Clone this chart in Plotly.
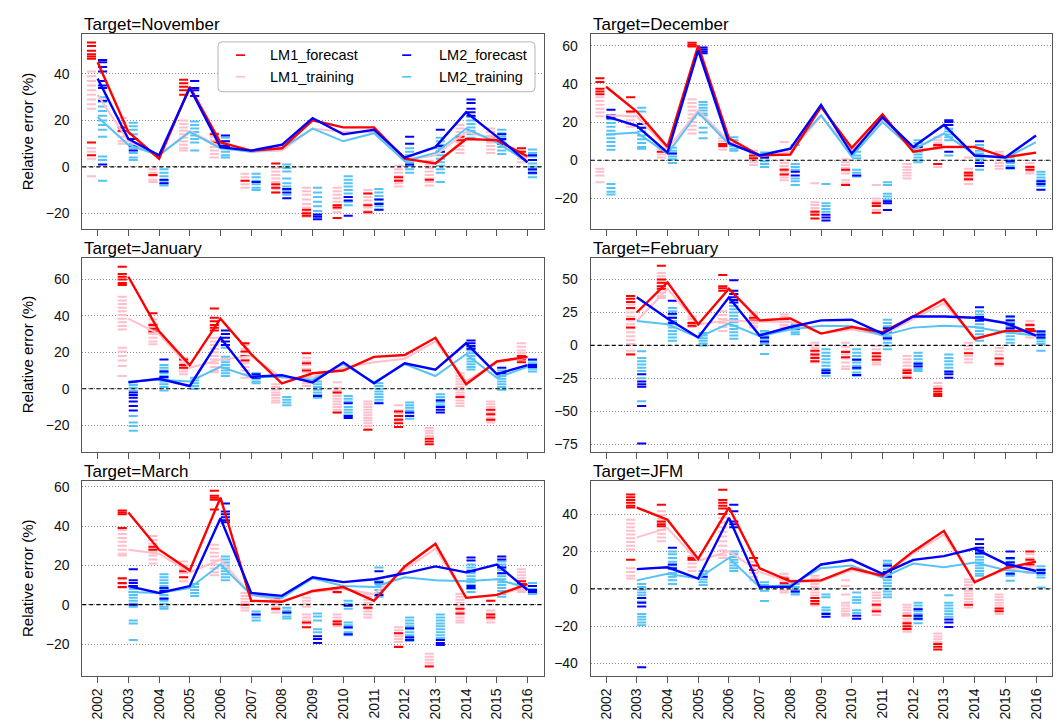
import plotly.graph_objects as go
from plotly.subplots import make_subplots

YEARS = [2002, 2003, 2004, 2005, 2006, 2007, 2008, 2009, 2010, 2011, 2012, 2013, 2014, 2015, 2016]
PANEL_TITLES = ["Target=November", "Target=December", "Target=January",
                "Target=February", "Target=March", "Target=JFM"]
SERIES_NAMES = ["LM1_forecast", "LM2_forecast", "LM1_training", "LM2_training"]

# ---------------- November ----------------
NOV_LM1_FC_LINE = [45, 15, 3.5, 34.5, 10.5, 7, 8, 20, 17, 17, 3.5, 1.5, 12, 11.5, 4.5]
NOV_LM2_FC_LINE = [38, 12, 5, 34, 8.5, 7, 9.5, 21, 14, 16, 4, 8.5, 23.5, 13, 2]
NOV_LM1_TR_LINE = [31, 11, 5, 15.5, 8.5, 6.5, 7, 16.5, 15, 15, 3, 5, 15, 12, 3.5]
NOV_LM2_TR_LINE = [21.5, 9.5, 5, 15, 8, 6.5, 8, 16.5, 11, 14.5, 2.5, 6, 16.5, 10.5, 2]
NOV_LM1_FC_PTS = [
    [53.5, 52, 50, 48.5, 47.5, 46.5, 10.5, 5], [17, 15.5], [-3.5], [37.5, 36, 34.5, 33, 31],
    [14, 10.5], [-6], [1.5, -7.5, -9, -11], [-18.5, -20, -21], [-16.5, -17.5, -22],
    [-11.5, -16.5, -19.5], [-4.5, -6], [-5.5], [13, 11.5], [12.5, 11.5], [8, 6.5]]
NOV_LM1_TR_PTS = [
    [41, 39, 37, 35, 33, 31, 29, 27, 25, 8, 6.5, 5, 3.5, -4],
    [21, 19, 17, 15, 13, 11, 10], [-1, -2.5, -4, -5.5, -6.5],
    [20, 18.5, 17, 15.5, 14, 12.5, 11, 9.5, 8, 7], [14.5, 13, 11.5, 10, 8.5, 7, 5.5, 4],
    [-3, -4.5, -6, -7.5, -9], [-0.5, -2, -3.5, -5, -6.5, -8, -9.5, -11],
    [-9, -10.5, -12, -14, -16, -17.5, -19, -20.5, -21.5],
    [-9, -10.5, -12, -13.5, -15, -16.5, -18, -19.5],
    [-10, -11.5, -13, -14.5, -16, -17.5, -19, -20], [0.5, -1, -2.5, -4, -5.5, -7, -8.5],
    [2.5, 1, -0.5, -2, -3.5, -5, -6.5, -8], [18, 16.5, 15, 13.5, 12, 10.5, 9, 7.5, 6],
    [16.5, 15, 13.5, 12, 10.5, 9, 7.5, 6], [8, 6.5, 5, 3.5, 2]]
NOV_LM2_FC_PTS = [
    [46, 45, 43, 41, 37, 35, 34, 28.5, 1], [12, 9, 7], [-5.5, -7], [37, 34, 33, 30.5],
    [13.5, 11, 9], [-6.5], [-9.5, -11, -13.5], [-20.5, -21.5, -22.5], [-13, -14.5, -21],
    [-14, -16, -18.5], [13, 10, 3, 1], [16, 9, 6.5], [29, 27.5, 25, 23.5, 22], [14, 12, 10],
    [5, 3, -1, -2.5]]
NOV_LM2_TR_PTS = [
    [30, 28, 26, 24, 22, 20, 18, 16, 13, 4.5, 3, -6], [19, 17.5, 16, 14, 12, 10, 8, 6, 4, 3],
    [-1, -2.5, -4, -6, -7, -8], [19.5, 18, 16.5, 15, 13.5, 12, 10.5, 7],
    [12.5, 11, 9.5, 8, 6.5, 5, 4], [-3, -4.5, -6, -7.5, -9, -10],
    [1, -0.5, -2, -5, -7, -8.5, -10, -12], [-9, -11, -13, -15, -17, -19, -21],
    [-4, -5.5, -7, -8.5, -10, -11.5, -13, -15, -16.5], [-9.5, -11, -12.5, -14, -15.5, -17, -18.5],
    [8, 6.5, 5, 3.5, 2, 0.5, -1, -2.5], [12.5, 11, 9.5, 8, 6.5, 5, 3.5, 2, 0.5, -1, -2.5, -6.5],
    [21.5, 20, 18.5, 17, 15.5, 14, 12.5], [16, 14.5, 13, 11.5, 10, 8.5, 7, 5.5],
    [7.5, 6, 4.5, 3, 1.5, 0, -1.5, -3, -4.5]]

# ---------------- December ----------------
DEC_LM1_FC_LINE = [38.5, 25.5, 7, 60, 11.5, 2.5, 3, 28, 6.5, 24, 4.5, 7, 7, 1.5, 4]
DEC_LM2_FC_LINE = [23, 18, 4, 57.5, 9, 2.5, 6, 29, 3.5, 22.5, 7, 18.5, 2.5, 1.5, 13]
DEC_LM1_TR_LINE = [23.5, 23, 6, 26, 10, 2, 4.5, 23, 5, 21, 5.5, 6.5, 6.5, 2, 4]
DEC_LM2_TR_LINE = [13.5, 14.5, 3.5, 25, 8.5, 3, 6, 23.5, 2, 20, 5.5, 14, 3, 1, 9.5]
DEC_LM1_FC_PTS = [
    [43, 41, 37.5, 36, 34.5], [33, 25.5], [4.5], [61.5, 60.5, 59.5], [8.5, 7.5], [2.5, 1],
    [-5, -7.5], [-27, -28.5, -30.5], [-5, -13], [-22.5, -24, -27.5], [], [8, 6.5, -2],
    [-6.5, -8, -10], [], [-3.5, -5]]
DEC_LM1_TR_PTS = [
    [33, 31, 29, 27, 25, 23, -4.5, -6, -8, -11.5], [25, 23, 21, 19, 17.5], [6, 4.5, 3, 1.5],
    [32, 30, 28, 26, 24, 22, 20, 18, 16, 14], [13, 11.5, 10, 8.5, 7, 5.5],
    [5, 3.5, 2, 0.5, -1, -2.5], [9.5, 0, -1.5, -3, -4.5, -6, -7.5, -9, -10.5],
    [-12, -22, -23.5, -25, -26.5, -28], [0.5, -1, -2.5, -4, -5.5, -7, -10.5, -12],
    [-13, -20, -21.5, -23, -26], [-2, -3.5, -5, -6.5, -8, -9.5], [12, 10.5, 9, 7.5, 6, -3.5],
    [1.5, -4.5, -6, -7.5, -9, -10.5, -12.5], [4.5, 3, 1.5, 0, -1.5, -3, -4.5],
    [-1.5, -3, -4.5, -6, -7]]
DEC_LM2_FC_PTS = [
    [26.5, 23.5, 22], [19, 17], [3.5], [59, 58, 57, 56], [9], [1.5], [-6, -8],
    [-28.5, -30, -31.5], [-8], [-21.5, -22.5, -26], [7], [21, 20, 18.5, 4.5],
    [10, -1.5, -3], [-0.5, -4], [-11, -12.5, -15.5]]
DEC_LM2_TR_PTS = [
    [23.5, 21.5, 19.5, 17.5, 15.5, 13.5, 11.5, 9.5, 7.5, 5.5, -12.5, -14.5, -16.5, -18],
    [27.5, 25.5, 17, 15, 13, 11, 9, 7, 6], [6.5, 5, 3.5, 2, 0.5, -1.5],
    [30.5, 29, 27.5, 26, 24.5, 23.5, 17, 14.5, 11.5], [12, 10.5, 9, 7.5, 6, 5],
    [4, 2.5, 1, -0.5, -2, -3.5], [8, -2, -3.5, -5, -9.5, -11, -13],
    [-12.5, -22.5, -24, -25.5, -27], [4.5, 2.5, 1, -5, -6.5, -8.5],
    [-11.5, -13, -17.5, -19, -20.5], [10.5, 9, 7.5, 6, 4.5, 3, 1.5, 0, -1],
    [16.5, 15, 13.5, 12, 10.5, 2.5], [8, 6.5, 5, 3.5, 2, 0.5, -1, -3, -5],
    [1.5, 0, -1.5, -3, -4.5], [-6, -7.5, -9, -10.5, -12, -13.5]]

# ---------------- January ----------------
JAN_LM1_FC_LINE = [None, 61.5, 31.5, 13, 38.5, 19, 3, 8.5, 10, 17.5, 18.5, 28, 2.5, 15, 17.5]
JAN_LM2_FC_LINE = [None, 3.5, 5.5, 1.5, 28, 6.5, 7.5, 3.5, 14.5, 3, 14, 10.5, 25, 8, 13]
JAN_LM1_TR_LINE = [None, 38.5, 30, 11.5, 16, 18, 6, 6.5, 11.5, 14.5, 16.5, 26, 4, 14.5, 17]
JAN_LM2_TR_LINE = [None, 4, 5, 4, 12, 6.5, 6.5, 5, 13.5, 3.5, 13.5, 7, 19, 6, 12]
JAN_LM1_FC_PTS = [
    [], [67, 63, 61.5, 60, 58, 57], [41.5, 35, 33, 31.5], [16, 13, 11.5],
    [44, 39, 37, 35, 33.5, 32], [25, 20.5, 18, 15.5], [], [19.5, 14, 10], [-2, -13],
    [-22.5], [-12.5, -15, -17, -19, -21], [-27.5, -29, -30.5], [-4.5], [-11.5, -14, -17],
    [18, 16, 14.5]]
JAN_LM1_TR_PTS = [
    [], [50.5, 48.5, 46.5, 44.5, 42.5, 40.5, 38.5, 36.5, 34.5, 32.5, 22.5, 20.5, 18, 15.5, 12.5, 7],
    [38, 36, 34, 32, 30, 28, 26, 24.5], [17, 15.5, 14, 12.5, 11, 9.5, 8],
    [28, 26, 24, 22, 20, 18, 16, 14, 12, 10, 9], [24, 22, 20, 18, 16, 14, 12, 10, 8, 6],
    [2.5, 1, -0.5, -2, -3.5, -5, -6.5, -7.5], [17, 15, 13, 11, 9, 7, 5, 3, 1.5],
    [3.5, 0.5, -1, -2.5, -4, -5.5, -7, -8.5, -10, -11.5, -13],
    [-7, -8.5, -10, -11.5, -13, -14.5, -16, -17.5, -19, -20.5, -22],
    [-9, -12, -13.5, -15, -16.5, -18], [-21.5, -23, -24.5, -26],
    [8.5, 7, 5.5, 4, 2.5, 1, -0.5, -2, -3.5, -5, -6.5, -8, -9.5],
    [-7, -8.5, -10, -11.5, -13, -14.5, -16, -17.5, -18.5], [25, 23, 21, 19.5, 18, 16.5, 15]]
JAN_LM2_FC_PTS = [
    [], [-2, -3.5, -5, -7, -9.5, -12], [16, 9.5, 6.5], [], [32, 30, 28, 26, 24], [8, 6], [],
    [-4], [-8, -15, -16], [-8], [-13, -15], [-6.5, -10, -11.5, -13], [26.5, 25, 23.5, 22],
    [11.5, 8.5], [16, 13, 12]]
JAN_LM2_TR_PTS = [
    [], [3.5, 2, 0.5, -1, -15, -18.5, -20.5, -23], [13, 11.5, 10, 8.5, 7, 5.5, 4, 2.5, 1, -1],
    [6, 4.5, 3, 1.5, 0], [22.5, 17.5, 16, 14.5, 13, 11.5, 10, 8.5, 7], [8.5, 7, 5.5, 4, 3],
    [-4.5, -6, -7.5, -9], [4, 2.5, 1, -0.5, -2, -3.5, -5], [-4, -5.5, -7, -10, -11.5, -13, -14.5],
    [3, 1.5, 0, -1.5, -3, -4.5, -6, -7.5], [-7.5, -9, -10.5, -12, -13.5, -15, -16.5],
    [-3, -4.5, -6, -7.5, -9], [22.5, 21, 19.5, 18, 16.5, 15, 13.5, 12, 10.5],
    [10, 8.5, 7, 5.5, 4, 2.5, 1, -0.5], [15.5, 14, 12.5, 11, 9.5]]

# ---------------- February ----------------
FEB_LM1_FC_LINE = [None, 25, 48, 16, 43, 19, 20.5, 9, 14, 10, 22, 35, 5, 11, 11]
FEB_LM2_FC_LINE = [None, 36.5, 20.5, 6, 36.5, 7.5, 14, 19, 19.5, 9, 22, 22, 21, 17, 7.5]
FEB_LM1_TR_LINE = [None, 18.5, 43, 16, 19, 18, 18, 9, 12, 8, 20, 32, 5.5, 10.5, 10]
FEB_LM2_TR_LINE = [None, 18.5, 16, 6, 16.5, 7, 12, 15, 14.5, 7.5, 13.5, 15, 14, 10, 7.5]
FEB_LM1_FC_PTS = [
    [], [37.5, 35.5, 33, 28.5, 20, 13.5, -7], [60.5, 50, 47.5, 45, 43], [17, 15],
    [53.5, 45, 43.5, 41.5], [21, 19], [20], [-4, -7, -9.5, -12], [-5, -9], [-6, -8.5, -11],
    [-19, -21, -24.5], [-33, -35, -37, -38.5], [-6], [-10, -14], [15.5, 12.5, 11]]
FEB_LM1_TR_PTS = [
    [], [31, 28, 25, 22, 19, 16, 13, 10, 7, 4, 1, -4, -6.5],
    [55, 52.5, 50, 47.5, 45, 42.5, 40, 37.5, 36], [22, 20, 18, 16, 14], [26, 23, 20, 17, 14, 11],
    [25, 23, 21, 19, 17, 15, 13.5], [23.5, 21.5, 19.5, 17.5, 15.5, 13.5],
    [2, 0, -2, -4, -6, -8, -10, -12, -13], [2, -1, -4, -7, -10, -13, -16, -18],
    [-0.5, -3, -5.5, -8, -10.5, -13, -14.5], [-8, -10.5, -13, -15.5, -18, -20.5, -23],
    [-28.5, -31], [2, -0.5, -3, -5.5, -8, -10.5, -13], [-2, -4.5, -7, -9.5, -12, -14.5, -15.5],
    [18.5, 16.5, 14.5, 12.5, 10.5, 8.5, 6]]
FEB_LM2_FC_PTS = [
    [], [-22, -27.5, -29.5, -31.5, -46, -74.5], [34, 24, 21, 17], [],
    [49.5, 41.5, 39, 36.5, 34.5, 32.5], [6, 3], [12.5], [-19, -21], [-11, -17, -22.5],
    [13, 10, 5.5], [-14, -16], [-20, -22, -24.5], [29, 21.5, 19], [22, 19, 16, 13], [10.5, 8, 6]]
FEB_LM2_TR_PTS = [
    [], [-4.5, -9.5, -12, -14.5, -17, -19.5, -25, -42.5],
    [28.5, 26, 23.5, 21, 18.5, 16, 13.5, 11, 8.5, 6, 3.5], [9.5, 7.5, 5.5, 3.5, 1.5, 0],
    [30, 27.5, 25, 22.5, 20, 17.5, 15, 12.5, 10, 7.5, 5], [11, 9, 7, 5, 3, 1, -6.5],
    [16, 14, 12, 10, 8.5], [-3, -5.5, -8, -10.5, -13, -15.5, -18, -20.5, -23],
    [-3, -5.5, -8, -10.5, -13, -15.5, -18, -20.5, -23],
    [19.5, 17, 14.5, 12, 9.5, 7, 4.5, 2, -0.5, -3], [-5.5, -8, -10.5, -13, -15.5, -18, -19.5],
    [-7, -9.5, -12, -14.5, -17, -19.5], [26, 23.5, 21, 18.5, 16, 13.5, 11, 8.5, 6, 3.5],
    [22, 19.5, 17, 14.5, 12, 9.5, 7, 4.5, 2], [11, 9, 7, 5, 3, 1, -4]]

# ---------------- March ----------------
MAR_LM1_FC_LINE = [None, 47, 28, 17.5, 54.5, 2, 1.5, 7, 9, 2, 19.5, 31, 3.5, 5, 10.5]
MAR_LM2_FC_LINE = [None, 9.5, 6, 9.5, 44, 6, 4.5, 14, 11.5, 13, 16, 19.5, 16.5, 20.5, 7.5]
MAR_LM1_TR_LINE = [None, 28, 26, 16.5, 23, 5, 2, 6.5, 8, 5.5, 18, 28.5, 3.5, 5, 9]
MAR_LM2_TR_LINE = [None, 6.5, 6, 8.5, 20.5, 5, 3.5, 13.5, 9.5, 9, 14, 12.5, 12, 13, 8.5]
MAR_LM1_FC_PTS = [
    [], [48, 47, 46, 39, 13.5, 11, 9], [29.5, 28], [17, 14], [58, 55.5, 54.5, 53.5, 48.5], [0],
    [3, -2], [-9, -11.5], [6.5, -8.5, -10], [-1.5], [-14.5, -21.5], [-31.5], [-2, -4.5],
    [2, -5, -6.5], [12, 10.5]]
MAR_LM1_TR_PTS = [
    [], [38, 36, 34, 32, 30, 28, 26, 25, 13, 10.5, 8.5], [35, 33, 31, 29, 27, 25, 23, 21],
    [22, 20, 18, 16, 14, 12], [30.5, 28.5, 26.5, 24.5, 22.5, 20.5, 18.5, 16.5, 15],
    [6, 4.5, 3, 1.5, 0, -1.5, -3], [3.5, 2, 0.5, -1, -2.5, -4],
    [3.5, 2, 0.5, -1, -5, -6.5, -8, -9.5, -11.5], [6, -5, -6.5, -8, -9.5, -11],
    [5.5, 4, 2.5, 1, -0.5, -2, -3.5, -5, -6.5], [-11.5, -13, -14.5, -16, -17.5, -19, -21],
    [-25, -26.5, -28, -29.5, -31], [5.5, 4, 2.5, 1, -0.5, -2, -3.5, -5, -6.5, -8, -9],
    [2, -3, -4.5, -6, -7.5, -9], [18, 16.5, 15, 13.5, 12, 10.5, 9, 7.5, 6.5]]
MAR_LM2_FC_PTS = [
    [], [18, 12.5, 11, 9.5, 0], [8.5, 7, 3], [], [51.5, 47.5, 46, 44.5, 43, 42], [-5], [-4],
    [-16, -17.5, -19.5], [-0.5, -11.5, -15], [17, 11.5, 5], [-12, -16.5, -18],
    [-18, -19.5, -20.5], [24, 22.5, 17, 9.5, 8.5], [24.5, 23, 19, 16], [9.5, 7.5, 6.5]]
MAR_LM2_TR_PTS = [
    [], [8, 6.5, 5, 3.5, 2, 0.5, -1, -8, -9.5, -18],
    [15.5, 14, 12.5, 11, 9.5, 8, 6.5, 5, 3.5, 2, 0.5, -1, -2], [10.5, 9, 7.5, 6, 4.5],
    [24.5, 23, 21.5, 20, 18.5, 17, 15.5, 14, 12.5], [-3.5, -5, -6.5, -8], [-1.5, -3, -4.5, -6, -7],
    [-4.5, -6, -8, -12.5, -14], [2, 0.5, -2, -9, -10.5, -12, -14, -15.5],
    [19, 12, 10.5, 9, 7.5, 6, 4], [-6.5, -8, -9.5, -11, -12.5, -14, -15.5, -17, -18.5],
    [-5, -6.5, -8, -9.5, -11, -12.5, -14, -15.5, -17], [20.5, 19, 17.5, 16, 14.5, 13, 11.5, 10, 8, 6.5],
    [22, 20.5, 19, 17.5, 16, 14.5, 13, 11.5, 10, 8.5, 7, 5.5, 4], [11, 9.5, 8, 6.5, 5.5]]

# ---------------- JFM ----------------
JFM_LM1_FC_LINE = [None, 43.5, 37, 16, 43.5, 11, 4, 4.5, 11, 7, 20, 31, 3.5, 11, 14.5]
JFM_LM2_FC_LINE = [None, 10.5, 11.5, 5.5, 38, 1, 1, 13, 15.5, 8, 15.5, 17.5, 21.5, 13.5, 9.5]
JFM_LM1_TR_LINE = [None, 27.5, 32.5, 15, 20, 9, 3.5, 4, 10, 6.5, 19, 29, 4, 10, 12]
JFM_LM2_TR_LINE = [None, 4.5, 8, 5.5, 16.5, 1, 2, 11, 12.5, 6, 13.5, 11.5, 14, 10, 8.5]
JFM_LM1_FC_PTS = [
    [], [50.5, 49, 47.5, 46, 44.5, 43.5, 15.5], [45, 36, 34.5, 33.5], [16.5, 15.5],
    [53, 47.5, 46, 44.5, 43, 40], [16.5, 12.5, 10], [5.5, 3, 1], [-5, -6.5, -8], [],
    [-8.5, -12], [-14.5, -18.5, -20, -21.5], [-29.5, -31, -32.5], [-8.5], [-10.5, -12],
    [20, 15.5, 13]]
JFM_LM1_TR_PTS = [
    [], [37, 35, 33, 31, 29, 27, 25, 23, 21, 11, 9, 7, 5.5],
    [41.5, 39.5, 37.5, 35.5, 33.5, 31.5, 29.5, 27.5, 25.5], [19.5, 17.5, 15.5, 13.5, 11.5, 9.5],
    [38, 35.5, 33, 30.5, 28, 25.5, 23, 20.5, 18, 16.5], [16.5, 14.5, 12.5, 10.5, 8.5, 6.5, 4.5],
    [8, 6.5, 5, 3.5, 2, 0.5, -1, -2], [7, 5.5, 4, 2.5, 1, -0.5, -2, -3.5, -5, -6.5, -8, -9],
    [4.5, 1.5, -3, -7.5, -9, -10.5, -12, -13.5, -14.5], [-2, -3.5, -5, -6.5, -8, -9.5, -11, -12.5, -14],
    [-8.5, -10, -11.5, -13, -14.5, -16, -17.5, -19, -20.5, -22, -23], [-24, -25.5, -27, -28.5],
    [5, 3.5, 2, 0.5, -1, -2.5, -4, -5.5, -7, -8.5, -10], [-3, -4.5, -6, -7.5, -9, -10.5, -12, -13.5],
    [18.5, 16.5, 14.5, 12.5, 10.5, 8.5]]
JFM_LM2_FC_PTS = [
    [], [-5, -7.5, -9.5, -42], [22, 13, 11], [6.5], [45, 41.5, 36, 34.5, 33], [1], [-1.5],
    [-13.5, -15], [-14.5, -16], [12.5, 9, 6.5], [-11, -14.5, -16], [-16.5, -18, -20.5],
    [26.5, 24, 22, 20.5, 19], [20, 16.5, 14, 12.5, 8], [10, 8.5]]
JFM_LM2_TR_PTS = [
    [], [2.5, 1, -0.5, -2, -3.5, -7, -13.5, -15, -16.5, -18, -19.5],
    [20, 18.5, 16.5, 14.5, 12.5, 10.5, 8.5, 6.5, 4.5, 2.5], [9.5, 8, 6.5, 5, 3.5, 2],
    [20, 18.5, 17, 15.5, 14, 12.5, 11, 9.5], [3.5, 2, 0.5, -1, -6.5], [2.5, 1, -0.5, -2, -3],
    [-3, -4.5, -10, -11.5, -13], [-2, -4.5, -6, -7.5, -11.5, -13],
    [15, 13.5, 12, 10.5, 9, 7.5, 6, 4.5, 3, 1.5, 0, -1.5, -3, -4.5],
    [-7.5, -9, -10.5, -12, -13.5, -15, -16.5, -18.5], [-3.5, -7.5, -9, -10.5, -12, -13.5, -15],
    [18.5, 17, 15.5, 14, 12.5, 11, 9.5, 8, 7], [16, 14.5, 13, 11.5, 10, 8.5, 7, 4.3],
    [12, 10.5, 9, 7.5, 6, 0.7]]

# y-axis ranges and ticks per panel
Y_RANGES = [[-26.9, 57.1], [-36.2, 66], [-34.6, 71.8], [-80.8, 66.4], [-36.2, 62.9], [-46.6, 57.6]]
Y_TICKS = [[-20, 0, 20, 40], [-20, 0, 20, 40, 60], [-20, 0, 20, 40, 60],
           [-75, -50, -25, 0, 25, 50], [-20, 0, 20, 40, 60], [-40, -20, 0, 20, 40]]

PANELS = [
    (NOV_LM1_FC_LINE, NOV_LM2_FC_LINE, NOV_LM1_TR_LINE, NOV_LM2_TR_LINE,
     NOV_LM1_FC_PTS, NOV_LM2_FC_PTS, NOV_LM1_TR_PTS, NOV_LM2_TR_PTS),
    (DEC_LM1_FC_LINE, DEC_LM2_FC_LINE, DEC_LM1_TR_LINE, DEC_LM2_TR_LINE,
     DEC_LM1_FC_PTS, DEC_LM2_FC_PTS, DEC_LM1_TR_PTS, DEC_LM2_TR_PTS),
    (JAN_LM1_FC_LINE, JAN_LM2_FC_LINE, JAN_LM1_TR_LINE, JAN_LM2_TR_LINE,
     JAN_LM1_FC_PTS, JAN_LM2_FC_PTS, JAN_LM1_TR_PTS, JAN_LM2_TR_PTS),
    (FEB_LM1_FC_LINE, FEB_LM2_FC_LINE, FEB_LM1_TR_LINE, FEB_LM2_TR_LINE,
     FEB_LM1_FC_PTS, FEB_LM2_FC_PTS, FEB_LM1_TR_PTS, FEB_LM2_TR_PTS),
    (MAR_LM1_FC_LINE, MAR_LM2_FC_LINE, MAR_LM1_TR_LINE, MAR_LM2_TR_LINE,
     MAR_LM1_FC_PTS, MAR_LM2_FC_PTS, MAR_LM1_TR_PTS, MAR_LM2_TR_PTS),
    (JFM_LM1_FC_LINE, JFM_LM2_FC_LINE, JFM_LM1_TR_LINE, JFM_LM2_TR_LINE,
     JFM_LM1_FC_PTS, JFM_LM2_FC_PTS, JFM_LM1_TR_PTS, JFM_LM2_TR_PTS),
]

# ---------------- styling ----------------
W, H = 1059, 724
RED = "#ff0000"
BLUE = "#0000ff"
PINK = "#ffc0cb"
LBLUE = "#55c3f5"
FONT = "Liberation Sans, Arial, Helvetica, sans-serif"
LM1_OFF, LM2_OFF = -0.2, 0.16

COL_X = [(82.3, 543.5), (590.7, 1052.0)]
ROW_Y = [(32.3, 228.0), (256.7, 451.0), (480.5, 675.7)]


def px(x):
    return x / W


def py(y):
    return 1 - y / H


fig = make_subplots(rows=3, cols=2)


def dash_trace(pts, off, color, ax):
    xs, ys = [], []
    for yr, vals in zip(YEARS, pts):
        for v in vals:
            xs.append(yr + off)
            ys.append(v)
    return go.Scatter(x=xs, y=ys, mode="markers", hoverinfo="skip", showlegend=False,
                      marker=dict(symbol="line-ew", size=6.5, color=color,
                                  line=dict(color=color, width=2)),
                      xaxis="x" + ax, yaxis="y" + ax)


def line_trace(vals, color, width, ax):
    return go.Scatter(x=YEARS, y=vals, mode="lines", showlegend=False, hoverinfo="skip",
                      line=dict(color=color, width=width), xaxis="x" + ax, yaxis="y" + ax)


annotations = []
shapes = []
for i, p in enumerate(PANELS):
    fc1, fc2, tr1, tr2, fc1p, fc2p, tr1p, tr2p = p
    ax = "" if i == 0 else str(i + 1)
    r, c = divmod(i, 2)
    fig.add_trace(dash_trace(tr1p, LM1_OFF, PINK, ax))
    fig.add_trace(dash_trace(fc1p, LM1_OFF, RED, ax))
    fig.add_trace(dash_trace(tr2p, LM2_OFF, LBLUE, ax))
    fig.add_trace(dash_trace(fc2p, LM2_OFF, BLUE, ax))
    fig.add_trace(line_trace(tr1, PINK, 2, ax))
    fig.add_trace(line_trace(tr2, LBLUE, 2, ax))
    fig.add_trace(line_trace(fc1, RED, 2.4, ax))
    fig.add_trace(line_trace(fc2, BLUE, 2.4, ax))

    x0, x1 = COL_X[c]
    y0, y1 = ROW_Y[r]
    xa = "xaxis" if i == 0 else f"xaxis{i + 1}"
    ya = "yaxis" if i == 0 else f"yaxis{i + 1}"
    fig.layout[xa].update(
        domain=[px(x0), px(x1)], range=[2001.5, 2016.52], tickvals=YEARS,
        ticktext=[str(y) for y in YEARS], showticklabels=(r == 2), tickangle=-90,
        ticks="outside", ticklen=6, tickcolor="#555", showgrid=False, zeroline=False,
        showline=True, linecolor="#555", linewidth=1, mirror=True,
        tickfont=dict(family=FONT, size=14, color="#111"))
    fig.layout[ya].update(
        domain=[py(y1), py(y0)], range=Y_RANGES[i], tickvals=Y_TICKS[i],
        ticks="outside", ticklen=9, tickcolor="rgba(0,0,0,0)", showgrid=True,
        gridcolor="#8a8a8a", griddash="1px,2px", gridwidth=1, zeroline=False,
        showline=True, linecolor="#555", linewidth=1, mirror=True,
        tickfont=dict(family=FONT, size=14, color="#111"))
    # zero reference line (drawn above the data, as in the reference)
    shapes.append(dict(type="line", xref=("x" + ax) + " domain", yref="y" + ax,
                       x0=0, x1=1, y0=0, y1=0, layer="above",
                       line=dict(color="black", width=1.2, dash="4px,3px")))
    annotations.append(dict(text=PANEL_TITLES[i], xref="paper", yref="paper",
                            x=px(x0), y=py(y0 - 10), xanchor="left", yanchor="middle",
                            showarrow=False, font=dict(family=FONT, size=17, color="black")))
    if c == 0:
        annotations.append(dict(text="Relative error (%)", xref="paper", yref="paper",
                                x=px(27.5), y=py((y0 + y1) / 2), textangle=-90,
                                xanchor="center", yanchor="middle", showarrow=False,
                                font=dict(family=FONT, size=15, color="black")))

# legend box (in the November panel)
lx0, lx1, ly0, ly1 = 218, 535, 40, 90
rx, ry = 4 / W, 4 / H
X0, X1, Y0, Y1 = px(lx0), px(lx1), py(ly1), py(ly0)
path = (f"M {X0 + rx},{Y0} L {X1 - rx},{Y0} Q {X1},{Y0} {X1},{Y0 + ry} "
        f"L {X1},{Y1 - ry} Q {X1},{Y1} {X1 - rx},{Y1} L {X0 + rx},{Y1} "
        f"Q {X0},{Y1} {X0},{Y1 - ry} L {X0},{Y0 + ry} Q {X0},{Y0} {X0 + rx},{Y0} Z")
shapes.append(dict(type="path", path=path, xref="paper", yref="paper", layer="above",
                   fillcolor="white", line=dict(color="#b5b5b5", width=1)))
legend_items = [(SERIES_NAMES[0], RED, 240.5, 268.3, 53.3),
                (SERIES_NAMES[1], BLUE, 406.7, 436.7, 53.3),
                (SERIES_NAMES[2], PINK, 240.5, 268.3, 75.0),
                (SERIES_NAMES[3], LBLUE, 406.7, 436.7, 75.0)]
for name, col, mx, tx, yy in legend_items:
    shapes.append(dict(type="line", xref="paper", yref="paper", layer="above",
                       x0=px(mx - 4.5), x1=px(mx + 4.5), y0=py(yy), y1=py(yy),
                       line=dict(color=col, width=1.7)))
    annotations.append(dict(text=name, xref="paper", yref="paper", x=px(tx), y=py(yy),
                            xanchor="left", yanchor="middle", showarrow=False,
                            font=dict(family=FONT, size=14.5, color="black")))

fig.update_layout(width=W, height=H, margin=dict(l=0, r=0, t=0, b=0, pad=0),
                  paper_bgcolor="white", plot_bgcolor="white", showlegend=False,
                  annotations=annotations, shapes=shapes,
                  font=dict(family=FONT, color="black"))

fig.write_html("out.html", config={"displayModeBar": False},
               post_script="document.body.style.margin='0';document.body.style.overflow='hidden';")
